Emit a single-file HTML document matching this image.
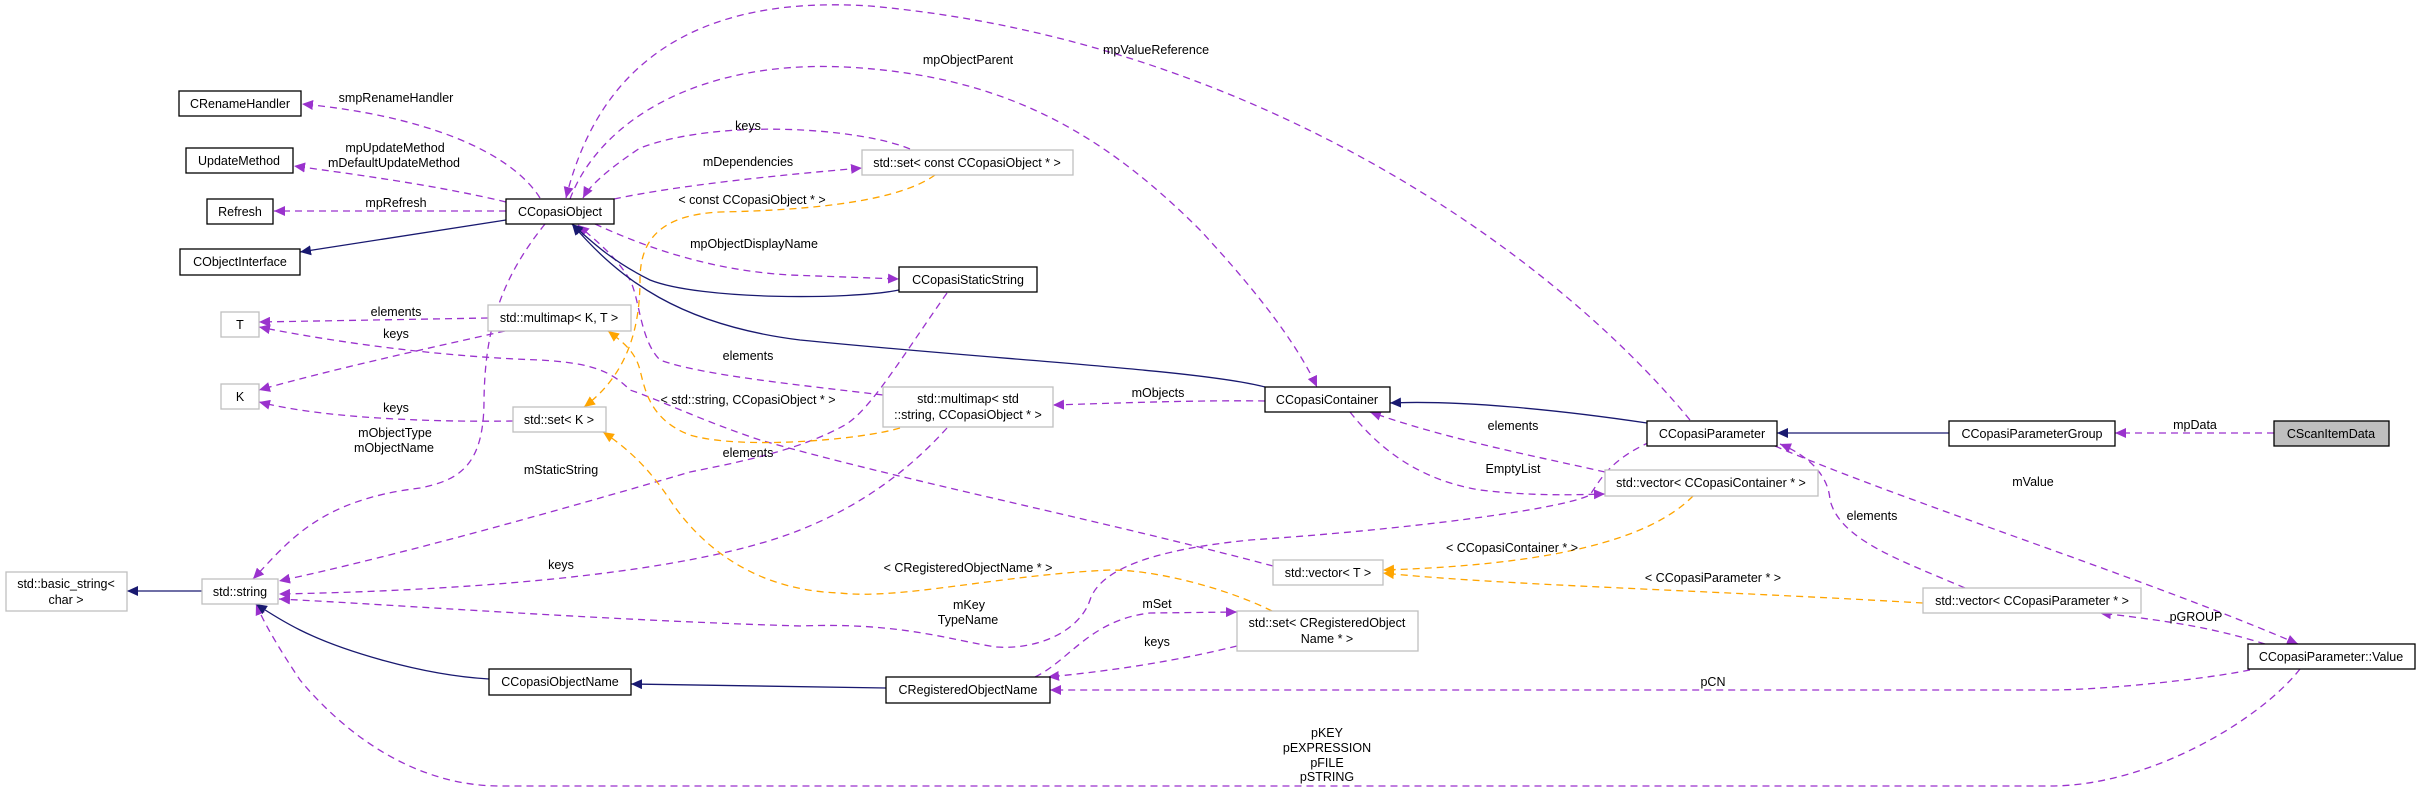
<!DOCTYPE html>
<html><head><meta charset="utf-8"><style>
html,body{margin:0;padding:0;background:#fff;}
svg{display:block;}
text{font-family:"Liberation Sans",sans-serif;font-size:12.5px;fill:#000;}
</style></head><body>
<svg width="2421" height="792" viewBox="0 0 2421 792" xmlns="http://www.w3.org/2000/svg">
<defs>
<marker id="p" markerUnits="userSpaceOnUse" markerWidth="12" markerHeight="10" refX="11" refY="5" orient="auto"><path d="M0,0 L11,5 L0,10 z" fill="#9a32cd"/></marker>
<marker id="n" markerUnits="userSpaceOnUse" markerWidth="12" markerHeight="10" refX="11" refY="5" orient="auto"><path d="M0,0 L11,5 L0,10 z" fill="#191970"/></marker>
<marker id="o" markerUnits="userSpaceOnUse" markerWidth="12" markerHeight="10" refX="11" refY="5" orient="auto"><path d="M0,0 L11,5 L0,10 z" fill="#ffa500"/></marker>
</defs>
<g fill="none" stroke-width="1.3">
<!-- purple dashed -->
<g stroke="#9a32cd" stroke-dasharray="7,5" marker-end="url(#p)">
<path d="M540 198 C510 150,420 115,302 104"/>
<path d="M506 202 C440 186,360 175,294 166"/>
<path d="M506 211 L274 211"/>
<path d="M910 149 C860 128,720 118,640 148 C610 168,590 185,583 198"/>
<path d="M614 199 C680 185,780 175,862 168"/>
<path d="M595 224 C630 240,700 270,790 275 L899 279"/>
<path d="M570 199 C600 120,700 60,845 67 C1000 75,1100 130,1200 230 C1265 300,1300 350,1317 387"/>
<path d="M1690 420 C1550 250,1250 40,870 6 C700 -5,600 60,566 198"/>
<path d="M488 318 L259 322"/>
<path d="M505 331 C420 350,330 370,259 390"/>
<path d="M513 421 C450 422,330 420,259 402"/>
<path d="M545 224 C500 280,485 330,484 400 C484 465,460 480,420 488 C320 500,290 540,253 579"/>
<path d="M1273 566 C1100 520,900 480,760 440 C700 420,660 400,630 390 C610 370,590 363,540 360 C450 357,350 345,259 327"/>
<path d="M883 395 C800 385,700 375,660 360 C640 340,640 300,630 280 C615 255,595 240,578 225"/>
<path d="M947 293 C900 360,870 410,845 425 C800 450,740 462,690 472 C560 510,400 555,279 581"/>
<path d="M947 428 C900 480,850 510,800 530 C700 570,500 590,279 594"/>
<path d="M1650 442 C1610 460,1600 480,1590 495 C1560 510,1400 530,1250 540 C1150 550,1100 570,1090 600 C1080 630,1040 650,996 647 C950 640,900 622,800 626 C600 620,400 605,279 599"/>
<path d="M1350 412 C1380 450,1420 480,1480 490 C1530 496,1570 495,1605 494"/>
<path d="M1035 677 C1070 660,1090 620,1150 613 L1237 612"/>
<path d="M1237 646 C1180 660,1120 670,1048 677"/>
<path d="M2300 669 C2260 720,2150 786,2050 786 L500 786 C420 786,350 740,300 680 C280 650,265 625,256 604"/>
<path d="M2250 670 C2200 680,2100 690,2050 690 L1050 690"/>
<path d="M2265 644 C2220 630,2180 622,2100 613"/>
<path d="M1775 446 C1900 500,2150 580,2298 644"/>
<path d="M1965 588 C1900 560,1840 540,1830 500 C1828 470,1800 452,1780 444"/>
<path d="M1605 472 C1530 455,1450 440,1370 412"/>
<path d="M1265 401 C1200 400,1120 403,1053 405"/>
<path d="M2274 433 L2115 433"/>
</g>
<!-- orange dashed -->
<g stroke="#ffa500" stroke-dasharray="7,5" marker-end="url(#o)">
<path d="M935 175 C900 200,820 210,720 212 C660 215,640 240,640 280 C640 340,620 380,584 407"/>
<path d="M900 428 C860 440,740 450,690 435 C650 420,645 390,640 370 C635 350,620 340,608 331"/>
<path d="M1272 611 C1230 590,1160 570,1110 570 C1000 575,900 600,840 593 C740 590,690 530,670 500 C650 470,630 450,603 432"/>
<path d="M1923 603 C1700 590,1500 585,1383 573"/>
<path d="M1693 496 C1650 540,1550 565,1383 570"/>
</g>
<!-- navy solid -->
<g stroke="#191970" marker-end="url(#n)">
<path d="M506 220 L300 252"/>
<path d="M899 290 C850 300,700 300,650 280 C610 260,590 240,572 224"/>
<path d="M1265 387 C1200 370,1000 360,800 340 C680 325,620 280,572 224"/>
<path d="M886 688 L631 684"/>
<path d="M489 679 C420 675,340 650,300 630 C280 620,265 610,256 604"/>
<path d="M202 591 L127 591"/>
<path d="M1647 423 C1560 410,1460 400,1390 403"/>
<path d="M1949 433 L1777 433"/>
</g>
</g>
<!-- nodes -->
<g stroke-width="1.3">
<g fill="#fff" stroke="#000">
<rect x="179" y="91" width="122" height="25"/>
<rect x="186" y="148" width="107" height="25"/>
<rect x="207" y="199" width="66" height="25"/>
<rect x="180" y="249" width="120" height="26"/>
<rect x="506" y="199" width="108" height="25"/>
<rect x="899" y="267" width="138" height="25"/>
<rect x="1265" y="387" width="125" height="25"/>
<rect x="1647" y="421" width="130" height="25"/>
<rect x="1949" y="421" width="166" height="25"/>
<rect x="489" y="669" width="142" height="26"/>
<rect x="886" y="677" width="164" height="26"/>
<rect x="2248" y="644" width="167" height="25"/>
</g>
<rect x="2274" y="421" width="115" height="25" fill="#bfbfbf" stroke="#000"/>
<g fill="#fff" stroke="#bfbfbf">
<rect x="221" y="312" width="38" height="25"/>
<rect x="221" y="384" width="38" height="25"/>
<rect x="488" y="305" width="143" height="26"/>
<rect x="513" y="407" width="93" height="25"/>
<rect x="862" y="150" width="211" height="25"/>
<rect x="883" y="387" width="170" height="40"/>
<rect x="6" y="572" width="121" height="39"/>
<rect x="202" y="579" width="76" height="25"/>
<rect x="1273" y="560" width="110" height="25"/>
<rect x="1237" y="611" width="181" height="40"/>
<rect x="1605" y="470" width="213" height="26"/>
<rect x="1923" y="588" width="218" height="25"/>
</g>
</g>
<g text-anchor="middle">
<text x="240" y="108">CRenameHandler</text>
<text x="239" y="165">UpdateMethod</text>
<text x="240" y="216">Refresh</text>
<text x="240" y="266">CObjectInterface</text>
<text x="560" y="216">CCopasiObject</text>
<text x="968" y="284">CCopasiStaticString</text>
<text x="1327" y="404">CCopasiContainer</text>
<text x="1712" y="438">CCopasiParameter</text>
<text x="2032" y="438">CCopasiParameterGroup</text>
<text x="2331" y="438">CScanItemData</text>
<text x="560" y="686">CCopasiObjectName</text>
<text x="968" y="694">CRegisteredObjectName</text>
<text x="2331" y="661">CCopasiParameter::Value</text>
<text x="240" y="329">T</text>
<text x="240" y="401">K</text>
<text x="559" y="322">std::multimap&lt; K, T &gt;</text>
<text x="559" y="424">std::set&lt; K &gt;</text>
<text x="967" y="167">std::set&lt; const CCopasiObject * &gt;</text>
<text x="968" y="403">std::multimap&lt; std</text>
<text x="968" y="419">::string, CCopasiObject * &gt;</text>
<text x="66" y="588">std::basic_string&lt;</text>
<text x="66" y="604">char &gt;</text>
<text x="240" y="596">std::string</text>
<text x="1328" y="577">std::vector&lt; T &gt;</text>
<text x="1327" y="627">std::set&lt; CRegisteredObject</text>
<text x="1327" y="643">Name * &gt;</text>
<text x="1711" y="487">std::vector&lt; CCopasiContainer * &gt;</text>
<text x="2032" y="605">std::vector&lt; CCopasiParameter * &gt;</text>
<!-- edge labels -->
<text x="396" y="102">smpRenameHandler</text>
<text x="395" y="152">mpUpdateMethod</text>
<text x="394" y="167">mDefaultUpdateMethod</text>
<text x="396" y="207">mpRefresh</text>
<text x="748" y="130">keys</text>
<text x="748" y="166">mDependencies</text>
<text x="752" y="204">&lt; const CCopasiObject * &gt;</text>
<text x="754" y="248">mpObjectDisplayName</text>
<text x="968" y="64">mpObjectParent</text>
<text x="1156" y="54">mpValueReference</text>
<text x="396" y="316">elements</text>
<text x="396" y="338">keys</text>
<text x="748" y="360">elements</text>
<text x="396" y="412">keys</text>
<text x="395" y="437">mObjectType</text>
<text x="394" y="452">mObjectName</text>
<text x="748" y="404">&lt; std::string, CCopasiObject * &gt;</text>
<text x="748" y="457">elements</text>
<text x="561" y="474">mStaticString</text>
<text x="561" y="569">keys</text>
<text x="1158" y="397">mObjects</text>
<text x="1513" y="430">elements</text>
<text x="1513" y="473">EmptyList</text>
<text x="1512" y="552">&lt; CCopasiContainer * &gt;</text>
<text x="968" y="572">&lt; CRegisteredObjectName * &gt;</text>
<text x="969" y="609">mKey</text>
<text x="968" y="624">TypeName</text>
<text x="1157" y="608">mSet</text>
<text x="1157" y="646">keys</text>
<text x="1327" y="737">pKEY</text>
<text x="1327" y="752">pEXPRESSION</text>
<text x="1327" y="767">pFILE</text>
<text x="1327" y="781">pSTRING</text>
<text x="2195" y="429">mpData</text>
<text x="2033" y="486">mValue</text>
<text x="1872" y="520">elements</text>
<text x="1713" y="582">&lt; CCopasiParameter * &gt;</text>
<text x="2196" y="621">pGROUP</text>
<text x="1713" y="686">pCN</text>
</g>
</svg>
</body></html>
